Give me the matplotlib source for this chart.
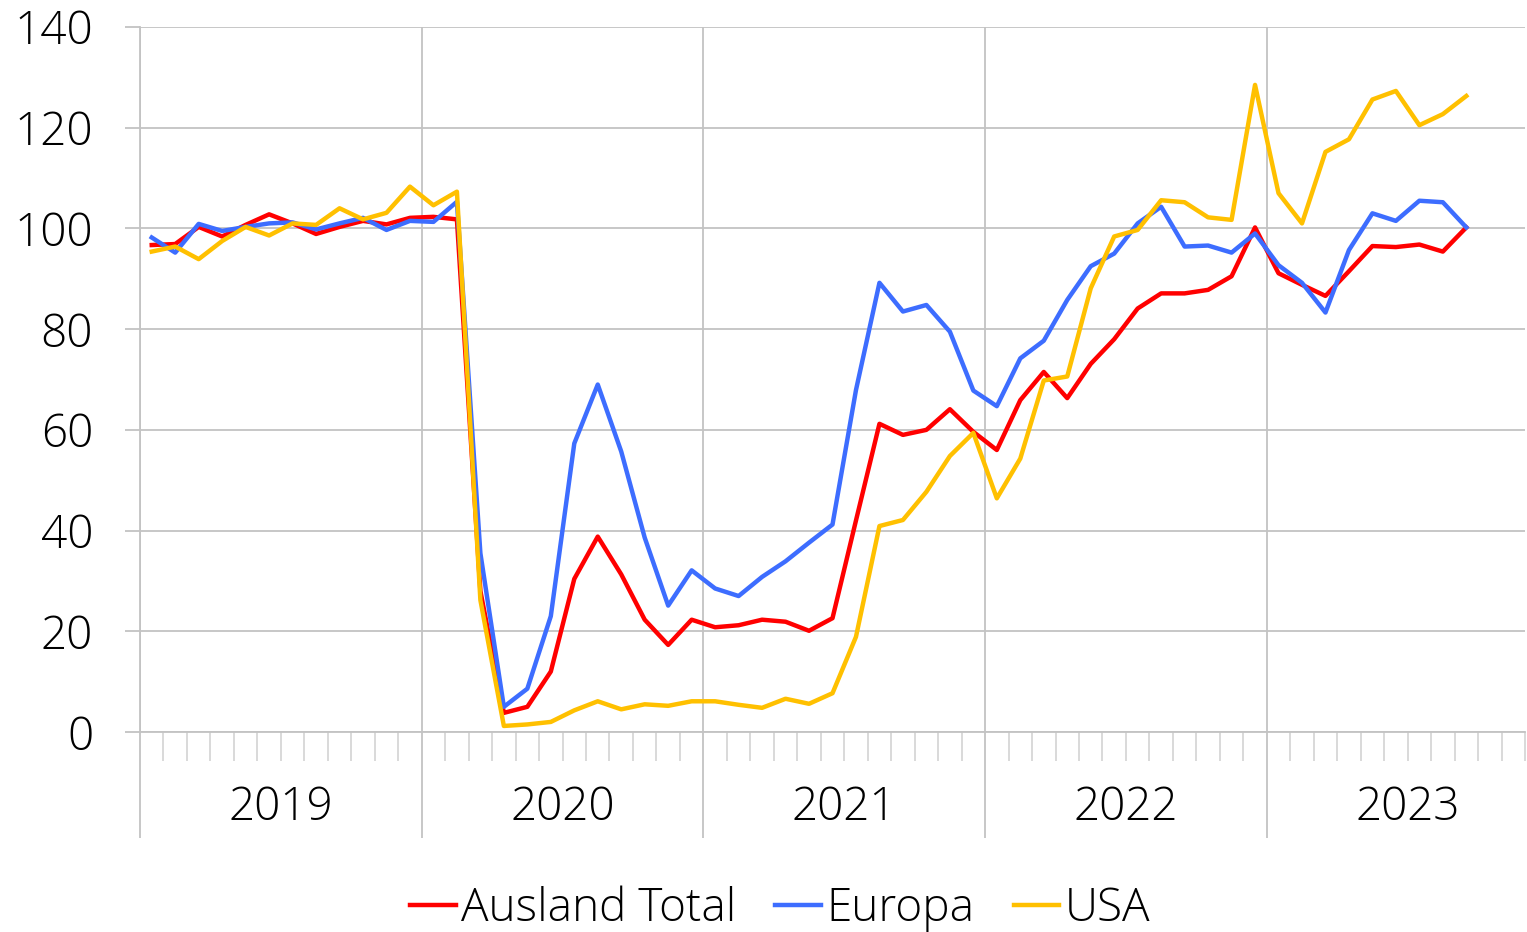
import numpy as np
import matplotlib
matplotlib.use("Agg")
import matplotlib.pyplot as plt
from matplotlib.ticker import MultipleLocator, FixedLocator
from matplotlib.transforms import blended_transform_factory

plt.rcParams['font.family'] = ['Open Sans', 'DejaVu Sans']
plt.rcParams['font.weight'] = 'light'

# Monatswerte Jan 2019 - Sep 2023 (Index)
years = ['2019', '2020', '2021', '2022', '2023']
ausland_total = [
    96.7, 96.9, 100.3, 98.4, 100.7, 102.8, 101.0, 98.9, 100.3, 101.5, 100.8, 102.1,
    102.3, 101.8, 28.0, 3.8, 5.0, 12.0, 30.4, 38.8, 31.3, 22.3, 17.3, 22.3,
    20.8, 21.2, 22.3, 21.9, 20.1, 22.6, 42.0, 61.2, 59.0, 60.0, 64.1, 59.6,
    56.0, 65.9, 71.5, 66.3, 73.1, 78.0, 84.1, 87.1, 87.1, 87.8, 90.5, 100.2,
    91.1, 88.8, 86.6, 91.5, 96.5, 96.3, 96.8, 95.4, 100.2,
]
europa = [
    98.2, 95.2, 100.9, 99.5, 100.3, 101.0, 101.2, 99.8, 101.0, 102.1, 99.7, 101.5,
    101.3, 105.3, 35.5, 5.0, 8.6, 23.0, 57.3, 69.0, 55.7, 38.6, 25.1, 32.1,
    28.5, 27.0, 30.8, 33.9, 37.6, 41.2, 67.9, 89.2, 83.5, 84.8, 79.5, 67.8,
    64.7, 74.2, 77.7, 85.8, 92.5, 95.0, 101.0, 104.3, 96.4, 96.6, 95.2, 99.0,
    92.7, 89.2, 83.3, 95.7, 103.0, 101.5, 105.5, 105.2, 100.2,
]
usa = [
    95.4, 96.4, 93.9, 97.5, 100.3, 98.6, 101.0, 100.7, 104.0, 101.8, 103.1, 108.3,
    104.6, 107.3, 26.2, 1.2, 1.5, 2.0, 4.3, 6.1, 4.5, 5.5, 5.2, 6.1,
    6.1, 5.4, 4.8, 6.6, 5.6, 7.7, 18.9, 40.9, 42.1, 47.7, 54.8, 59.4,
    46.4, 54.3, 69.8, 70.6, 88.1, 98.4, 99.7, 105.6, 105.2, 102.2, 101.7, 128.5,
    107.0, 101.0, 115.2, 117.7, 125.6, 127.3, 120.5, 122.7, 126.3,
]

n_months = 59
grid_c = '#c3c3c3'
FS = 33

fig = plt.figure(figsize=(15.27, 9.32), dpi=100)
ax = fig.add_axes([140 / 1527, 1 - 732 / 932, 1385 / 1527, 705 / 932])

xs = np.arange(len(ausland_total)) + 0.5
ax.plot(xs, ausland_total, color='#ff0000', lw=3.2, label='Ausland Total', solid_joinstyle='round')
ax.plot(xs, europa, color='#3d6dff', lw=3.2, label='Europa', solid_joinstyle='round')
ax.plot(xs, usa, color='#ffc000', lw=3.2, label='USA', solid_joinstyle='round')

ax.set_xlim(0, n_months)
ax.set_ylim(0, 140)
ax.yaxis.set_major_locator(MultipleLocator(20))
ax.xaxis.set_major_locator(FixedLocator([0, 12, 24, 36, 48]))
ax.xaxis.set_minor_locator(FixedLocator(np.arange(0, n_months + 1)))
ax.set_xticklabels([])
ax.grid(True, which='major', color=grid_c, lw=1.3)
ax.set_axisbelow(True)

for s in ['top', 'right']:
    ax.spines[s].set_visible(False)
for s in ['left', 'bottom']:
    ax.spines[s].set_color(grid_c)
    ax.spines[s].set_linewidth(1.3)

ax.tick_params(axis='y', length=10.8, width=1.3, color=grid_c, pad=23, labelsize=FS)
ax.tick_params(axis='x', which='major', length=76, width=1.3, color=grid_c)
ax.tick_params(axis='x', which='minor', length=21, width=1.1, color='#d0d0d0')

trans = blended_transform_factory(ax.transData, ax.transAxes)
for i, y in enumerate(years):
    ax.text(i * 12 + 6, -76 / 705, y, transform=trans, ha='center', va='center',
            fontsize=FS, clip_on=False)

leg = fig.legend(loc='center', bbox_to_anchor=(780 / 1527, 1 - 909 / 932), ncol=3,
                 frameon=False, fontsize=FS, handlelength=1.0, handletextpad=0.12,
                 columnspacing=0.85, borderaxespad=0)

fig.savefig('out.png', dpi=100)
